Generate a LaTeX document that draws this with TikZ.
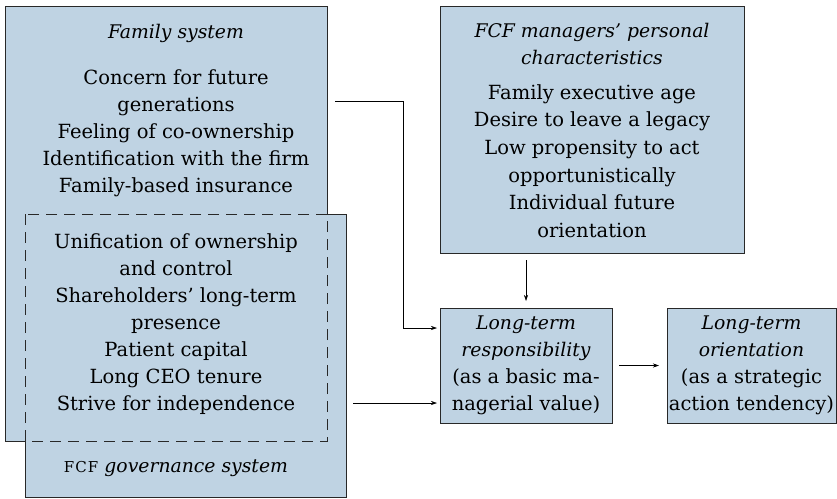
\documentclass[tikz,border=0pt]{standalone}
\usepackage{fontspec}
\setmainfont{DejaVu Serif}
\usetikzlibrary{arrows.meta}
\definecolor{boxfill}{RGB}{191,211,227}
\definecolor{boxline}{RGB}{40,40,40}
\newcommand\itline[1]{{\fontsize{18.8}{27}\selectfont\itshape #1}}
\begin{document}
\begin{tikzpicture}[x=1pt,y=-1pt,
  box/.style={fill=boxfill,inner sep=0pt,outer sep=0pt},
  framed/.style={box,draw=boxline,line width=0.8pt},
  txt/.style={align=center,font=\fontsize{19.5}{27}\selectfont,inner sep=0pt,text=black},
  ttl/.style={txt,font=\fontsize{18.8}{27}\selectfont\itshape},
  arr/.style={-{Stealth[length=6pt,width=4pt]},line width=0.6pt,draw=black}]
\useasboundingbox (0,0) rectangle (837,498);
% family and governance systems (overlapping)
\node[box,minimum width=322pt,minimum height=435pt] (fam) at (166,223.5) {};
\node[box,minimum width=321pt,minimum height=283pt] (gov) at (185.5,355.5) {};
\draw[boxline,line width=0.8pt] (fam.north west) -- (fam.north east) -- (fam.east |- gov.north)
  -- (gov.north east) -- (gov.south east) -- (gov.south west) -- (gov.west |- fam.south)
  -- (fam.south west) -- cycle;
\draw[boxline,line width=0.8pt,dash pattern=on 11pt off 7pt] (gov.north west) rectangle (fam.south east);
\node[ttl] (famttl) at (176,33) {Family system};
\node[txt] (fambody) at (176,133) {Concern for future\\generations\\Feeling of co-ownership\\Identification with the firm\\Family-based insurance};
\node[txt] (govbody) at (176,324) {Unification of ownership\\and control\\Shareholders’ long-term\\presence\\Patient capital\\Long CEO tenure\\Strive for independence};
\node[txt] (govttl) at (176,468) {{\fontsize{15}{15}\selectfont F\kern1ptC\kern1ptF}\ \itline{governance system}};
% managers
\node[framed,minimum width=304pt,minimum height=247pt] (mgr) at (592,129.5) {};
\node[ttl] (mgrttl) at (592,43.5) {FCF managers’ personal\\characteristics};
\node[txt,font=\fontsize{19.5}{27.6}\selectfont] (mgrbody) at (592,161) {Family executive age\\Desire to leave a legacy\\Low propensity to act\\opportunistically\\Individual future\\orientation};
% outcomes
\node[framed,txt,minimum width=172pt,minimum height=115pt] (ltr) at (526,365.5) {\itline{Long-term}\\\itline{responsibility}\\(as a basic ma-\\nagerial value)};
\node[framed,txt,minimum width=169pt,minimum height=115pt] (lto) at (751.5,365.5) {\itline{Long-term}\\\itline{orientation}\\(as a strategic\\action tendency)};
% connectors
\coordinate (a1) at (335,101);
\coordinate (a2) at (403,328);
\coordinate (b1) at (353,403);
\draw[arr] (a1) -| (a2) -- ([xshift=-3pt]ltr.west |- a2);
\draw[arr] (b1) -- ([xshift=-3pt]ltr.west |- b1);
\draw[arr] ([yshift=-7pt]ltr.north |- mgr.south) -- ([yshift=7pt]ltr.north);
\draw[arr] ([xshift=7pt]ltr.east) -- ([xshift=-8pt]lto.west);
\end{tikzpicture}
\end{document}
